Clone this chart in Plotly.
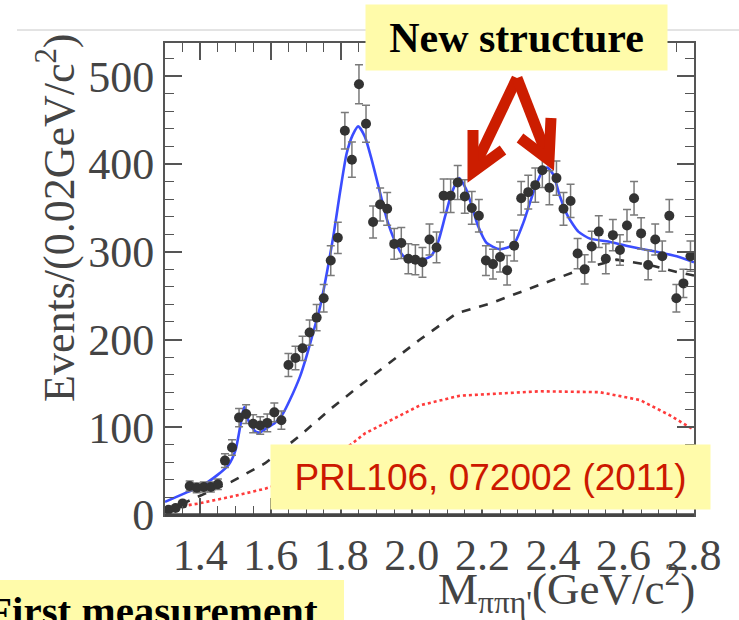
import plotly.graph_objects as go

# ---------------- data ----------------
bin_centers = [1.31, 1.33, 1.35, 1.37, 1.39, 1.41, 1.43, 1.45, 1.47, 1.49,
               1.51, 1.53, 1.55, 1.57, 1.59, 1.61, 1.63, 1.65, 1.67, 1.69,
               1.71, 1.73, 1.75, 1.77, 1.79, 1.81, 1.83, 1.85, 1.87, 1.89,
               1.91, 1.93, 1.95, 1.97, 1.99, 2.01, 2.03, 2.05, 2.07, 2.09,
               2.11, 2.13, 2.15, 2.17, 2.19, 2.21, 2.23, 2.25, 2.27, 2.29,
               2.31, 2.33, 2.35, 2.37, 2.39, 2.41, 2.43, 2.45, 2.47, 2.49,
               2.51, 2.53, 2.55, 2.57, 2.59, 2.61, 2.63, 2.65, 2.67, 2.69,
               2.71, 2.73, 2.75, 2.77, 2.79]
events = [6, 8, 13, 33, 31, 32, 32, 35, 62, 77,
          111, 115, 104, 102, 105, 117, 108, 171, 179, 190,
          208, 225, 247, 290, 316, 438, 405, 491, 446, 334,
          354, 349, 309, 310, 292, 291, 288, 314, 305, 364,
          364, 379, 363, 350, 341, 290, 286, 294, 279, 307,
          361, 368, 376, 393, 373, 384, 349, 358, 298, 280,
          306, 323, 292, 319, 302, 330, 361, 321, 285, 314,
          295, 341, 247, 264, 295]
errors = [2.4, 2.8, 3.6, 5.7, 5.6, 5.7, 5.7, 5.9, 7.9, 8.8,
          10.5, 10.7, 10.2, 10.1, 10.2, 10.8, 10.4, 13.1, 13.4, 13.8,
          14.4, 15.0, 15.7, 17.0, 17.8, 20.9, 20.1, 22.2, 21.1, 18.3,
          18.8, 18.7, 17.6, 17.6, 17.1, 17.1, 17.0, 17.7, 17.5, 19.1,
          19.1, 19.5, 19.1, 18.7, 18.5, 17.0, 16.9, 17.1, 16.7, 17.5,
          19.0, 19.2, 19.4, 19.8, 19.3, 19.6, 18.7, 18.9, 17.3, 16.7,
          17.5, 18.0, 17.1, 17.9, 17.4, 18.2, 19.0, 17.9, 16.9, 17.7,
          17.2, 18.5, 15.7, 16.2, 17.2]

fit_x = [1.30, 1.357, 1.399, 1.45, 1.48, 1.50, 1.52, 1.525, 1.539, 1.557,
         1.569, 1.588, 1.612, 1.635, 1.654, 1.683, 1.702, 1.727, 1.739, 1.777,
         1.796, 1.815, 1.832, 1.848, 1.867, 1.886, 1.910, 1.930, 1.952, 1.976,
         2.004, 2.032, 2.056, 2.075, 2.094, 2.113, 2.134, 2.153, 2.170, 2.188,
         2.212, 2.250, 2.288, 2.316, 2.344, 2.368, 2.384, 2.401, 2.420, 2.443,
         2.472, 2.505, 2.552, 2.618, 2.694, 2.751, 2.80]
fit_y = [15, 25, 32, 46, 57, 74, 116, 123, 105, 95,
         94, 99, 105, 116, 131, 158, 182, 218, 236, 317,
         367, 412, 433, 443, 431, 405, 367, 336, 312, 295,
         289, 291, 296, 312, 340, 367, 384, 372, 352, 329,
         310, 303, 308, 333, 367, 390, 396, 388, 363, 340,
         323, 315, 312, 306, 300, 295, 288]

bkg_x = [1.30, 1.394, 1.489, 1.584, 1.678, 1.773, 1.867, 2.023, 2.127, 2.221,
         2.363, 2.486, 2.581, 2.675, 2.751, 2.80]
bkg_y = [4, 21, 38, 59, 89, 122, 152, 200, 230, 241,
         262, 281, 291, 285, 277, 273]

red_x = [1.30, 1.394, 1.489, 1.584, 1.725, 1.80, 1.867, 2.023, 2.136, 2.363,
         2.533, 2.647, 2.73, 2.80]
red_y = [7, 13, 21, 30, 48, 72, 93, 125, 136, 141,
         140, 131, 114, 97]

x_ticks = [1.4, 1.6, 1.8, 2.0, 2.2, 2.4, 2.6, 2.8]
x_tick_labels = ["1.4", "1.6", "1.8", "2.0", "2.2", "2.4", "2.6", "2.8"]
y_ticks = [0, 100, 200, 300, 400, 500]

# ---------------- layout helpers (pixel -> paper) ----------------
L, R, T, B = 165, 694, 43, 515
W, H = 739, 620
def px(x):
    return (x - L) / (R - L)
def py(y):
    return (B - y) / (B - T)

fig = go.Figure()

fig.add_trace(go.Scatter(x=red_x, y=red_y, mode="lines",
                         line=dict(color="#ff3b3b", width=2.6, dash="dot"),
                         hoverinfo="skip", showlegend=False))
fig.add_trace(go.Scatter(x=bkg_x, y=bkg_y, mode="lines",
                         line=dict(color="#333333", width=2.6, dash="dash"),
                         hoverinfo="skip", showlegend=False))
fig.add_trace(go.Scatter(x=fit_x, y=fit_y, mode="lines",
                         line=dict(color="#3b4dff", width=2.6, shape="spline", smoothing=0.6),
                         hoverinfo="skip", showlegend=False))
fig.add_trace(go.Scatter(x=bin_centers, y=events, mode="markers",
                         marker=dict(color="#333333", size=10),
                         error_y=dict(type="data", array=errors, color="#7a7a7a",
                                      thickness=1.5, width=4),
                         showlegend=False))

axis_common = dict(showline=True, linecolor="#555555", linewidth=2, mirror="ticks",
                   ticks="inside", ticklen=17, tickwidth=1.5, tickcolor="#555555",
                   showgrid=False, zeroline=False,
                   tickfont=dict(family="Liberation Serif", size=44, color="#444444"))

fig.update_layout(
    width=W, height=H,
    margin=dict(l=L, r=W - R, t=T, b=H - B),
    paper_bgcolor="white", plot_bgcolor="white",
    xaxis=dict(range=[1.3, 2.8], tickvals=x_ticks, ticktext=x_tick_labels,
               minor=dict(dtick=0.05, tick0=1.3, ticklen=9, ticks="inside",
                          tickcolor="#555555", tickwidth=1.2),
               **axis_common),
    yaxis=dict(range=[0, 538], tickvals=y_ticks,
               minor=dict(dtick=20, tick0=0, ticklen=9, ticks="inside",
                          tickcolor="#555555", tickwidth=1.2),
               **axis_common),
)

shapes = []
# slide divider line
shapes.append(dict(type="line", xref="paper", yref="paper",
                   x0=px(17), x1=px(739), y0=py(30), y1=py(30),
                   line=dict(color="#c8c8c8", width=1), layer="below"))
# thick bottom axis
shapes.append(dict(type="line", xref="paper", yref="paper",
                   x0=0, x1=1, y0=py(515), y1=py(515),
                   line=dict(color="#444444", width=3.5), layer="above"))
# bottom-left yellow box
shapes.append(dict(type="rect", xref="paper", yref="paper",
                   x0=px(-5), x1=px(344), y0=py(580), y1=py(640),
                   fillcolor="#fffbaa", line=dict(width=0), layer="above"))
# red arrows
red = "#cc1d00"
for path_pts in [
    [(517, 78), (473, 170)],
    [(473, 130), (473, 172), (503, 150)],
    [(517, 78), (548, 158)],
    [(520, 138), (549, 160), (551, 118)],
]:
    d = "M " + " L ".join(f"{px(a)},{py(b)}" for a, b in path_pts)
    shapes.append(dict(type="path", xref="paper", yref="paper", path=d,
                       line=dict(color=red, width=11), layer="above"))
fig.update_layout(shapes=shapes)

ann = []
ann.append(dict(xref="paper", yref="paper", x=px(516.5), y=py(37.5),
                xanchor="center", yanchor="middle", showarrow=False,
                text="<b>New structure</b>", width=301, height=65,
                bgcolor="#fffbaa", borderpad=0,
                font=dict(family="Liberation Serif", size=42, color="black")))
ann.append(dict(xref="paper", yref="paper", x=px(490.5), y=py(477),
                xanchor="center", yanchor="middle", showarrow=False,
                text="PRL106, 072002 (2011)", width=439, height=64,
                bgcolor="#fffbaa", borderpad=0,
                font=dict(family="Liberation Sans", size=37, color="#cc1800")))
ann.append(dict(xref="paper", yref="paper", x=px(-15), y=py(586),
                xanchor="left", yanchor="top", showarrow=False,
                text="<b>First measurement</b>",
                font=dict(family="Liberation Serif", size=41, color="black")))
ann.append(dict(xref="paper", yref="paper", x=px(56), y=py(218),
                xanchor="center", yanchor="middle", showarrow=False, textangle=-90,
                text="Events/(0.02GeV/c<sup>2</sup>)",
                font=dict(family="Liberation Serif", size=44, color="#444444")))
ann.append(dict(xref="paper", yref="paper", x=px(697), y=py(588),
                xanchor="right", yanchor="middle", showarrow=False,
                text="M<sub>ππη'</sub>(GeV/c<sup>2</sup>)",
                font=dict(family="Liberation Serif", size=45, color="#444444")))
fig.update_layout(annotations=ann)

fig.write_html("out.html")
